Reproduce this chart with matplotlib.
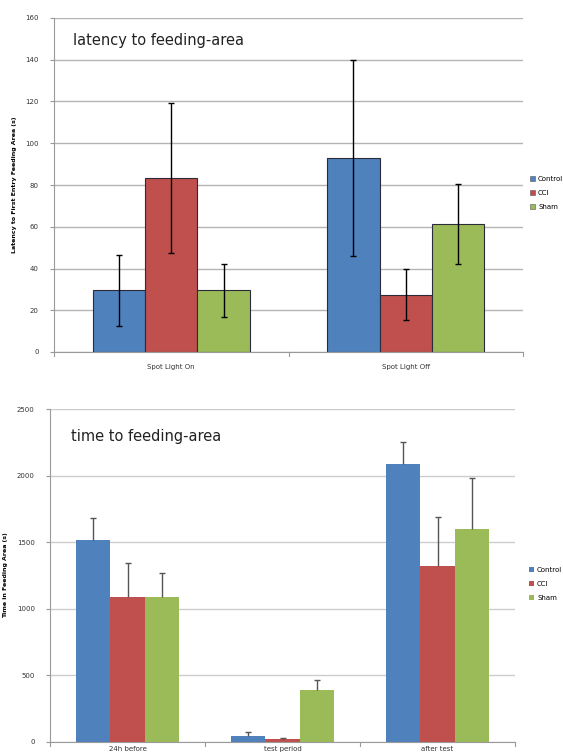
import numpy as np
import matplotlib
matplotlib.use('Agg')
import matplotlib.pyplot as plt
from matplotlib.patches import Patch

groups = ['Control', 'CCI', 'Sham']
colors = ['#4F81BD', '#C0504D', '#9BBB59']

# latency to feeding-area
lat_cats = ['Spot Light On', 'Spot Light Off']
lat_vals = {'Control': [29.5, 93], 'CCI': [83.3, 27.5], 'Sham': [29.5, 61.3]}
lat_err = {'Control': [17, 47], 'CCI': [36, 12.2], 'Sham': [12.5, 19.2]}

# time to feeding-area
time_cats = ['24h before', 'test period', 'after test']
time_vals = {'Control': [1515, 45, 2087], 'CCI': [1090, 25, 1324], 'Sham': [1090, 393, 1599]}
time_err = {'Control': [167, 30, 165], 'CCI': [255, 8, 365], 'Sham': [181, 72, 383]}

W, H = 563, 756
fig = plt.figure(figsize=(W / 100, H / 100), dpi=100)
fig.patch.set_facecolor('white')


def px_axes(left, right, top, bottom):
    return fig.add_axes([left / W, 1 - bottom / H, (right - left) / W, (bottom - top) / H])


def style(ax, ymax, step, grid_color, xpad):
    ax.set_ylim(0, ymax)
    ax.set_yticks(np.arange(0, ymax + 1, step))
    ax.yaxis.grid(True, color=grid_color, lw=1)
    ax.set_axisbelow(True)
    for s in ['top', 'right']:
        ax.spines[s].set_visible(False)
    for s in ['left', 'bottom']:
        ax.spines[s].set_color('#9a9a9a')
    ax.tick_params(axis='y', labelsize=5, colors='#9a9a9a', labelcolor='#333333', length=3, pad=8)
    ax.tick_params(axis='x', length=0, labelsize=5, labelcolor='#333333', pad=xpad)


def draw(ax, cats, vals, errs, edge, ecolor, lower):
    n = len(cats)
    x = np.arange(n)
    bw = 0.67 / 3
    for i, g in enumerate(groups):
        xs = x + (i - 1) * bw
        ax.bar(xs, vals[g], bw, color=colors[i], edgecolor=edge, lw=0.8 if edge != 'none' else 0)
        e = np.array(errs[g])
        yerr = [e, e] if lower else [np.zeros_like(e), e]
        _, caps, _ = ax.errorbar(xs, vals[g], yerr=yerr, fmt='none', ecolor=ecolor,
                                 elinewidth=1, capsize=2, capthick=1)
        if not lower:
            caps[0].remove()
    ax.set_xlim(-0.5, n - 0.5)
    ax.set_xticks(x)
    ax.set_xticklabels(cats)
    # boundary tick marks
    for b in np.arange(-0.5, n, 1.0):
        ax.plot([b, b], [0, -0.012 * ax.get_ylim()[1]], color='#9a9a9a', lw=0.8, clip_on=False)


ax1 = px_axes(54, 523, 18, 352)
style(ax1, 160, 20, '#b4b4b4', 9)
draw(ax1, lat_cats, lat_vals, lat_err, '#2b2b3a', 'black', True)
ax1.set_ylabel('Latency to First Entry Feeding Area (s)', fontsize=4.5, fontweight='bold', labelpad=6)
ax1.text(73 / W, 1 - 40 / H, 'latency to feeding-area', transform=fig.transFigure,
         fontsize=10.5, va='center', ha='left', color='#222222')

ax2 = px_axes(50, 515, 409, 742)
style(ax2, 2500, 500, '#cccccc', 3)
draw(ax2, time_cats, time_vals, time_err, 'none', '#555555', False)
ax2.set_ylabel('Time in Feeding Area (s)', fontsize=4.5, fontweight='bold', labelpad=6)
ax2.text(71 / W, 1 - 437 / H, 'time to feeding-area', transform=fig.transFigure,
         fontsize=10.5, va='center', ha='left', color='#222222')

handles = [Patch(facecolor=c, edgecolor='#555555', lw=0.4) for c in colors]
fig.legend(handles, groups, loc='center left', bbox_to_anchor=(527 / W, 1 - 193 / H),
           frameon=False, fontsize=5, handlelength=0.7, handleheight=0.7,
           handletextpad=0.4, labelspacing=1.2, borderpad=0)
handles2 = [Patch(facecolor=c, edgecolor='none') for c in colors]
fig.legend(handles2, groups, loc='center left', bbox_to_anchor=(526 / W, 1 - 584 / H),
           frameon=False, fontsize=5, handlelength=0.7, handleheight=0.7,
           handletextpad=0.4, labelspacing=1.2, borderpad=0)

fig.savefig('out.png', dpi=100)
